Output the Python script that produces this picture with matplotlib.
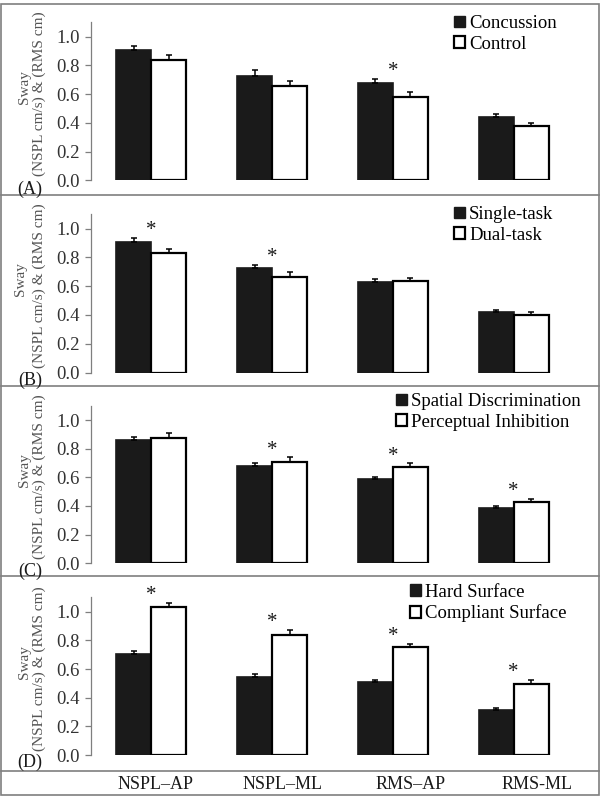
import matplotlib
matplotlib.use("Agg")
import matplotlib.pyplot as plt
import numpy as np
from matplotlib.patches import Patch, Rectangle
from matplotlib.lines import Line2D

plt.rcParams["font.family"] = ["Liberation Serif", "DejaVu Serif"]

measures = ["NSPL\u2013AP", "NSPL\u2013ML", "RMS\u2013AP", "RMS-ML"]

# (A) concussion vs control
a_labels = ["Concussion", "Control"]
a_mean1 = [0.905, 0.726, 0.680, 0.439]
a_err1 = [0.032, 0.044, 0.025, 0.023]
a_mean2 = [0.837, 0.655, 0.582, 0.378]
a_err2 = [0.033, 0.039, 0.031, 0.023]
a_sig = [False, False, True, False]

# (B) single vs dual task
b_labels = ["Single-task", "Dual-task"]
b_mean1 = [0.909, 0.724, 0.628, 0.420]
b_err1 = [0.026, 0.025, 0.021, 0.013]
b_mean2 = [0.833, 0.661, 0.635, 0.397]
b_err2 = [0.028, 0.035, 0.024, 0.023]
b_sig = [True, True, False, False]

# (C) task type
c_labels = ["Spatial Discrimination", "Perceptual Inhibition"]
c_mean1 = [0.863, 0.677, 0.588, 0.386]
c_err1 = [0.019, 0.025, 0.016, 0.016]
c_mean2 = [0.877, 0.707, 0.672, 0.426]
c_err2 = [0.030, 0.033, 0.026, 0.025]
c_sig = [False, True, True, True]

# (D) surface
d_labels = ["Hard Surface", "Compliant Surface"]
d_mean1 = [0.705, 0.546, 0.507, 0.316]
d_err1 = [0.023, 0.021, 0.016, 0.014]
d_mean2 = [1.035, 0.835, 0.756, 0.495]
d_err2 = [0.028, 0.039, 0.021, 0.028]
d_sig = [True, True, True, True]

yticks = [0.0, 0.2, 0.4, 0.6, 0.8, 1.0]

W, H = 600, 797
GRAY = "#7f7f7f"
DARK = "#1a1a1a"


def fx(px):
    return px / W


def fy(py):
    return 1 - py / H


panels = [
    ("(A)", a_labels, a_mean1, a_err1, a_mean2, a_err2, a_sig),
    ("(B)", b_labels, b_mean1, b_err1, b_mean2, b_err2, b_sig),
    ("(C)", c_labels, c_mean1, c_err1, c_mean2, c_err2, c_sig),
    ("(D)", d_labels, d_mean1, d_err1, d_mean2, d_err2, d_sig),
]
# pixel layout: (zero line, top of axis, letter y, legend x, legend mid y, ylabel "Sway" x)
layout = [
    (180.3, 22.3, 189, 454, 34, 24),
    (372.5, 214.1, 380, 454, 225, 21),
    (563.3, 405.7, 571, 396, 412, 24),
    (755.0, 597.4, 762, 410, 603, 24),
]

fig = plt.figure(figsize=(W / 100, H / 100), dpi=100)

ax_left, ax_right = 91, 574
bw = 0.29
x = np.arange(len(measures))

for (letter, labels, m1, e1, m2, e2, sig), (y0, y1, ly, lgx, lgy, swx) in zip(panels, layout):
    ax = fig.add_axes([fx(ax_left), fy(y0), (ax_right - ax_left) / W, (y0 - y1) / H])
    ax.set_facecolor("none")
    ekw = dict(ecolor="black", elinewidth=1.1, capsize=2.5, capthick=1.1)
    ax.bar(x - bw / 2, m1, bw, color=DARK, edgecolor=DARK, linewidth=1.2,
           yerr=[np.zeros(4), e1], error_kw=ekw, zorder=2)
    ax.bar(x + bw / 2, m2, bw, color="white", edgecolor="black", linewidth=1.6,
           yerr=[np.zeros(4), e2], error_kw=ekw, zorder=2)
    for i, s in enumerate(sig):
        if s:
            top = max(m1[i] + e1[i], m2[i] + e2[i])
            ax.annotate("*", xy=(x[i], top), xytext=(0, 2), textcoords="offset points",
                        ha="center", va="baseline", fontsize=15, color=DARK)

    ax.set_xlim(-0.5, 3.5)
    ax.set_ylim(0, 1.1)
    ax.set_yticks(yticks)
    ax.set_yticklabels([f"{v:.1f}" for v in yticks])
    ax.set_xticks([])
    for side in ["top", "right", "bottom"]:
        ax.spines[side].set_visible(False)
    ax.spines["left"].set_color(GRAY)
    ax.spines["left"].set_linewidth(0.9)
    ax.tick_params(axis="y", direction="out", length=4, width=0.9, color=GRAY,
                   labelsize=13.5, labelcolor="#333333", pad=4)

    # y label (two lines, drawn separately as in the original)
    ax.annotate("Sway", xy=(0, 0.59), xycoords="axes fraction",
                xytext=(swx - ax_left, 0), textcoords="offset pixels",
                rotation=90, ha="center", va="center", fontsize=11, color="#555555")
    ax.annotate("(NSPL cm/s) & (RMS cm)", xy=(0, 0.55), xycoords="axes fraction",
                xytext=(39 - ax_left, 0), textcoords="offset pixels",
                rotation=90, ha="center", va="center", fontsize=11, color="#555555")

    handles = [Patch(facecolor=DARK, edgecolor=DARK, linewidth=1.0),
               Patch(facecolor="white", edgecolor="black", linewidth=1.6)]
    fig.legend(handles, labels, loc="center left", bbox_to_anchor=(fx(lgx), fy(lgy)),
               frameon=False, fontsize=13.5, handlelength=0.6, handleheight=0.6,
               handletextpad=0.2, labelspacing=0.2, borderpad=0, borderaxespad=0)

    fig.text(fx(30), fy(ly), letter, ha="center", va="center", fontsize=13, color=DARK)

# category labels row
ax_lab = fig.add_axes([fx(92), fy(795), (601 - 92) / W, (795 - 771) / H])
ax_lab.set_xlim(-0.5, 3.5)
ax_lab.set_ylim(0, 1)
ax_lab.axis("off")
for i, name in enumerate(measures):
    ax_lab.text(x[i], 0.45, name, ha="center", va="center", fontsize=13, color=DARK)

# frame and panel separators
fig.add_artist(Rectangle((fx(1), fy(795)), fx(598), (795 - 4) / H, transform=fig.transFigure,
                         fill=False, edgecolor=GRAY, linewidth=1.2))
for yy in [195, 386, 576, 771]:
    fig.add_artist(Line2D([fx(1), fx(599)], [fy(yy), fy(yy)], transform=fig.transFigure,
                          color=GRAY, linewidth=1.2))

fig.savefig("out.png", dpi=100)
plt.close(fig)
